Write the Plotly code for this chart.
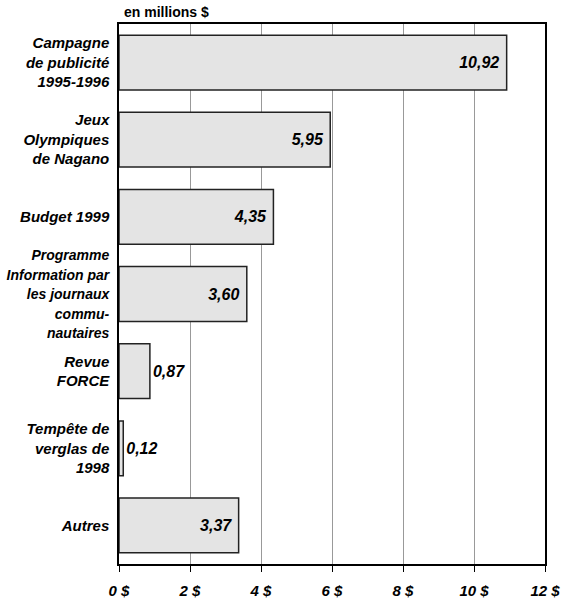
import plotly.graph_objects as go

# Données
categories = [
    "Campagne<br>de publicité<br>1995-1996",
    "Jeux<br>Olympiques<br>de Nagano",
    "Budget 1999",
    "<span style='font-size:14px'>Programme<br>Information par<br>les journaux<br>commu-<br>nautaires</span>",
    "Revue<br>FORCE",
    "Tempête de<br>verglas de<br>1998",
    "Autres",
]
values = [10.92, 5.95, 4.35, 3.60, 0.87, 0.12, 3.37]
tick_vals = [0, 2, 4, 6, 8, 10, 12]
tick_labels = ["0 $", "2 $", "4 $", "6 $", "8 $", "10 $", "12 $"]

# Étiquettes au format français, à l'intérieur sauf pour les petites barres
labels = []
positions = []
for v in values:
    txt = f"{v:.2f}".replace(".", ",")
    if v < 1:
        labels.append(txt)
        positions.append("outside")
    else:
        labels.append(txt + "\u00a0")
        positions.append("inside")

font_bi = dict(family="Liberation Sans, Arial", color="black",
               weight="bold", style="italic")

fig = go.Figure()

fig.add_trace(go.Bar(
    x=values,
    y=categories,
    orientation="h",
    width=0.71,
    marker=dict(color="#e4e4e4", line=dict(color="#222222", width=1.5)),
    text=labels,
    textposition=positions,
    textangle=0,
    insidetextanchor="end",
    textfont=dict(size=16, **font_bi),
    cliponaxis=False,
))

fig.update_layout(
    width=562,
    height=602,
    margin=dict(l=119, r=17, t=24, b=38),
    paper_bgcolor="white",
    plot_bgcolor="white",
    showlegend=False,
    uniformtext=dict(minsize=16, mode="show"),
    annotations=[dict(
        text="<b>en millions $</b>",
        x=0, xref="paper", xanchor="left", xshift=3,
        y=1, yref="paper", yanchor="bottom", yshift=2,
        showarrow=False,
        font=dict(family="Liberation Sans, Arial", size=14, color="black"),
    )],
)

fig.update_xaxes(
    range=[0, 12],
    tickvals=tick_vals,
    ticktext=tick_labels,
    tickfont=dict(size=15, **font_bi),
    showgrid=True,
    gridcolor="#999999",
    gridwidth=1,
    showline=True,
    linecolor="black",
    linewidth=1.5,
    mirror=True,
    ticks="outside",
    ticklen=6,
    tickcolor="black",
    zeroline=False,
    ticklabelstandoff=6,
    automargin=False,
)

fig.update_yaxes(
    autorange="reversed",
    tickfont=dict(size=15, **font_bi),
    showline=True,
    linecolor="black",
    linewidth=1.5,
    mirror=True,
    ticks="",
    ticklabelstandoff=5,
    automargin=False,
)

# Retirer la marge par défaut de la page
fig.write_html("out.html", config={"displayModeBar": False},
               post_script="document.body.style.margin='0';")
